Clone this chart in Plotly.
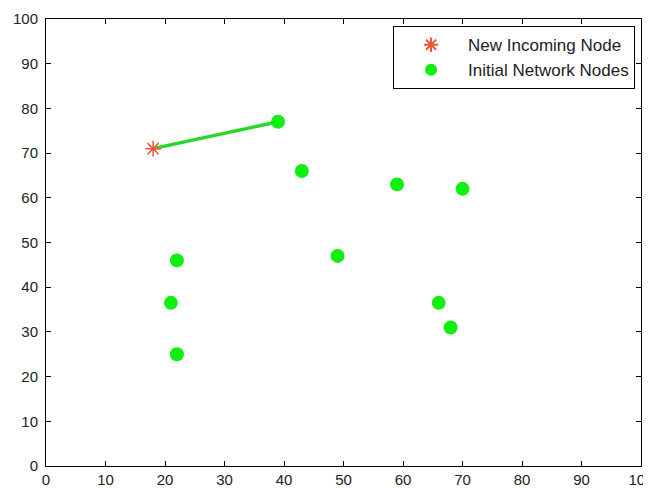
import plotly.graph_objects as go

new_node_x = [18]
new_node_y = [71]
net_x = [39, 43, 59, 70, 49, 22, 21, 66, 68, 22]
net_y = [77, 66, 63, 62, 47, 46, 36.5, 36.5, 31, 25]
link_x = [18, 39]
link_y = [71, 77]
x_ticks = list(range(0, 101, 10))
y_ticks = list(range(0, 101, 10))

fig = go.Figure()
fig.add_trace(go.Scatter(x=link_x, y=link_y, mode="lines",
                         line=dict(color="#2bd62b", width=3.5), showlegend=False))
fig.add_trace(go.Scatter(x=new_node_x, y=new_node_y, mode="markers", name="New Incoming Node",
                         marker=dict(symbol="asterisk-open", size=13,
                                     line=dict(color="#9a2020", width=1.5))))
fig.add_trace(go.Scatter(x=net_x, y=net_y, mode="markers", name="Initial Network Nodes",
                         marker=dict(symbol="circle", size=14, color="#11ee11",
                                     line=dict(width=0))))

axis_common = dict(range=[0, 100], showgrid=False, zeroline=False, showline=True,
                   linecolor="black", linewidth=1, mirror="ticks", ticks="inside",
                   ticklen=5, tickcolor="black", automargin=False,
                   tickfont=dict(family="Liberation Sans", size=15, color="#222"))
fig.update_xaxes(tickvals=x_ticks, ticklabelstandoff=0, ticklabeloverflow="allow", **axis_common)
fig.update_yaxes(tickvals=y_ticks, ticklabelstandoff=4, **axis_common)

# page body has an 8px margin, so the figure is offset by (8, 8)
fig.update_layout(
    width=643, height=480,
    margin=dict(l=38, r=10, t=11, b=22),
    paper_bgcolor="white", plot_bgcolor="white",
    legend=dict(x=0.99, y=0.984, xanchor="right", yanchor="top",
                bordercolor="black", borderwidth=1, bgcolor="white",
                font=dict(family="Liberation Sans", size=17, color="#222"),
                tracegroupgap=0, itemsizing="constant", itemwidth=64),
)
fig.write_html("out.html")
